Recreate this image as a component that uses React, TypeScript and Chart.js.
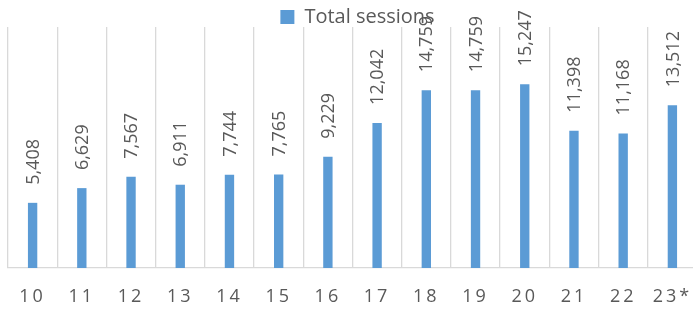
import React, { useEffect, useRef } from "react";
import { Chart, registerables } from "chart.js";

Chart.register(...registerables);

const categories = ["10", "11", "12", "13", "14", "15", "16", "17", "18", "19", "20", "21", "22", "23*"];
const sessions = [5408, 6629, 7567, 6911, 7744, 7765, 9229, 12042, 14759, 14759, 15247, 11398, 11168, 13512];
const seriesName = "Total sessions";
const yMax = 20000;

const FONT = "'Open Sans', 'Noto Sans', sans-serif";
const TEXT = "#595959";
const GRID = "#d9d9d9";
const BAR = "#5b9bd5";

const legendHeightPlugin = {
  id: "legendHeight",
  beforeLayout(chart: any) {
    const lg = chart.legend;
    if (lg && !lg.__patched) {
      const orig = lg.fit;
      lg.fit = function () {
        orig.call(this);
        this.height = 27;
      };
      lg.__patched = true;
    }
  },
};

const dataLabelPlugin = {
  id: "dataLabels",
  afterDatasetsDraw(chart: any) {
    const ctx = chart.ctx;
    const meta = chart.getDatasetMeta(0);
    const ds = chart.data.datasets[0];
    ctx.save();
    ctx.font = `18px ${FONT}`;
    ctx.fillStyle = TEXT;
    ctx.textAlign = "left";
    ctx.textBaseline = "middle";
    meta.data.forEach((el: any, i: number) => {
      const v = ds.data[i] as number;
      ctx.save();
      ctx.translate(el.x + 1, el.y - 18);
      ctx.rotate(-Math.PI / 2);
      ctx.fillText(v.toLocaleString("en-US"), 0, 0);
      ctx.restore();
    });
    ctx.restore();
    // wider letter spacing for the x tick labels, which are drawn after the datasets
    (ctx as any).letterSpacing = "3px";
  },
  afterDraw(chart: any) {
    (chart.ctx as any).letterSpacing = "0px";
  },
};

export default function App() {
  const ref = useRef<HTMLCanvasElement | null>(null);

  useEffect(() => {
    if (!ref.current) return;
    const chart = new Chart(ref.current, {
      type: "bar",
      data: {
        labels: categories,
        datasets: [
          {
            label: seriesName,
            data: sessions,
            backgroundColor: BAR,
            borderWidth: 0,
            barPercentage: 0.19,
            categoryPercentage: 1,
          },
        ],
      },
      options: {
        responsive: false,
        animation: false,
        devicePixelRatio: 1,
        layout: { padding: { left: 8, right: 0, top: 0, bottom: 0 } },
        plugins: {
          legend: {
            display: true,
            position: "top",
            align: "center",
            labels: {
              boxWidth: 14,
              boxHeight: 14,
              padding: 7,
              color: TEXT,
              font: { family: FONT, size: 20 },
            },
          },
          tooltip: { enabled: false },
        },
        scales: {
          x: {
            type: "category",
            offset: true,
            grid: {
              display: true,
              offset: true,
              color: GRID,
              lineWidth: 1.3,
              drawTicks: false,
            },
            border: { display: true, color: GRID, width: 1.3 },
            ticks: {
              color: TEXT,
              font: { family: FONT, size: 18 },
              padding: 18,
              maxRotation: 0,
              autoSkip: false,
              z: 1,
            },
            afterFit: (s: any) => {
              s.height = 43;
            },
          },
          y: {
            position: "right",
            min: 0,
            max: yMax,
            display: true,
            grid: { display: false },
            border: { display: false },
            ticks: { display: false },
            afterFit: (s: any) => {
              s.width = 10;
            },
          },
        },
      },
      plugins: [legendHeightPlugin, dataLabelPlugin],
    });
    return () => chart.destroy();
  }, []);

  return (
    <div
      style={{
        position: "absolute",
        left: 0,
        top: 0,
        width: 693,
        height: 311,
        overflow: "hidden",
        background: "#fff",
      }}
    >
      <canvas ref={ref} width={707} height={311} style={{ display: "block", width: 707, height: 311 }} />
    </div>
  );
}
